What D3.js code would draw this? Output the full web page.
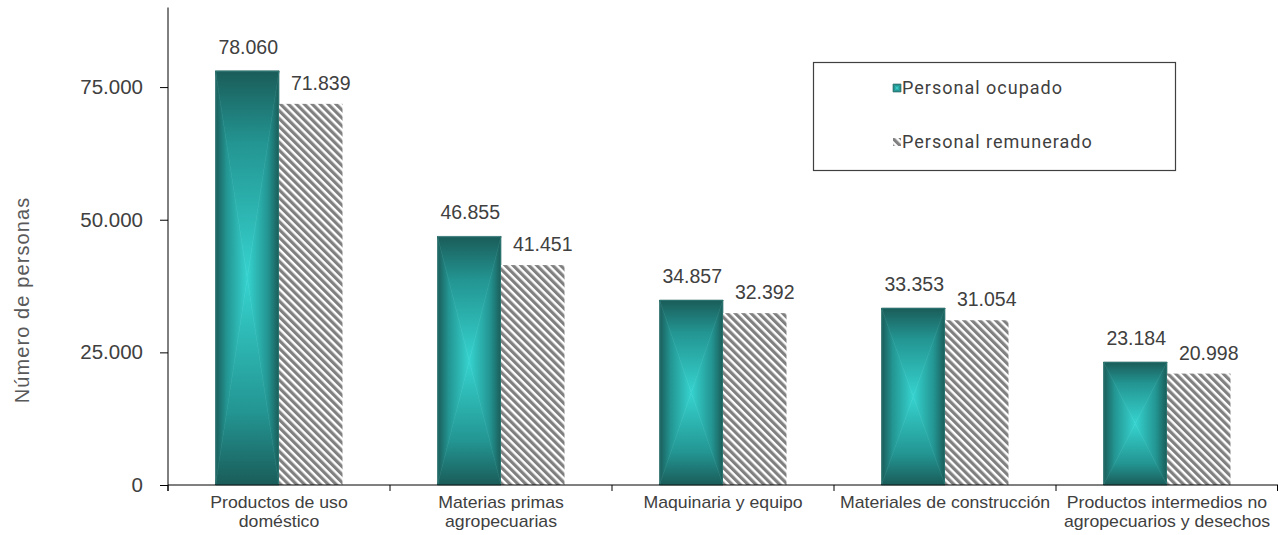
<!DOCTYPE html>
<html><head><meta charset="utf-8">
<script src="https://cdn.jsdelivr.net/npm/d3@7"></script>
<style>body{margin:0;background:#fff}svg{display:block}</style>
</head><body>
<script>
const categories = [["Productos de uso","doméstico"],["Materias primas","agropecuarias"],["Maquinaria y equipo"],["Materiales de construcción"],["Productos intermedios no","agropecuarios y desechos"]];
const ocupado = [78060, 46855, 34857, 33353, 23184];
const remunerado = [71839, 41451, 32392, 31054, 20998];
const yTicks = [0, 25000, 50000, 75000];
const seriesNames = ["Personal ocupado", "Personal remunerado"];

const W = 1278, H = 535;
const svg = d3.select("body").append("svg").attr("width", W).attr("height", H);
const loc = d3.formatLocale({decimal: ",", thousands: ".", grouping: [3], currency: ["", ""]});
const fmt = loc.format(",d");

const x0 = 168, x1 = 1278, yB = 485, yT = 7.5;
const x = d3.scaleBand().domain(d3.range(categories.length)).range([x0, x1]).paddingInner(0).paddingOuter(0);
const y = d3.scaleLinear().domain([0, 90000]).range([yB, yT]);
const bw = x.bandwidth();
const barW = 63.5;
const inner = d3.scaleBand().domain([0, 1]).range([0, barW * 2]);

const defs = svg.append("defs");
const dark = "#1a5c59", mid = "#239592", light = "#36d3cf";
function lg(id, x1_, y1_, x2_, y2_) {
  const g = defs.append("linearGradient").attr("id", id)
    .attr("x1", x1_).attr("y1", y1_).attr("x2", x2_).attr("y2", y2_);
  g.append("stop").attr("offset", 0).attr("stop-color", dark);
  g.append("stop").attr("offset", 0.35).attr("stop-color", mid);
  g.append("stop").attr("offset", 1).attr("stop-color", light);
}
lg("gT", 0, 0, 0, 1); lg("gB", 0, 1, 0, 0); lg("gL", 0, 0, 1, 0); lg("gR", 1, 0, 0, 0);

const pat = defs.append("pattern").attr("id", "hatch").attr("patternUnits", "userSpaceOnUse")
  .attr("width", 5.6).attr("height", 5.6).attr("patternTransform", "rotate(-45)");
pat.append("rect").attr("width", 5.6).attr("height", 5.6).attr("fill", "#fff");
pat.append("rect").attr("x", 0).attr("width", 3.2).attr("height", 5.6).attr("fill", "#808080");

function shadedRect(g, bx, by, w, h) {
  const cx = bx + w / 2, cy = by + h / 2;
  const tris = [
    [[bx, by], [bx + w, by], [cx, cy], "gT"],
    [[bx, by + h], [bx + w, by + h], [cx, cy], "gB"],
    [[bx, by], [bx, by + h], [cx, cy], "gL"],
    [[bx + w, by], [bx + w, by + h], [cx, cy], "gR"]
  ];
  tris.forEach(t => {
    g.append("polygon").attr("points", [t[0], t[1], t[2]].map(p => p.join(",")).join(" "))
      .attr("fill", `url(#${t[3]})`).attr("stroke", `url(#${t[3]})`).attr("stroke-width", 0.6);
  });
  g.append("rect").attr("x", bx + 0.5).attr("y", by + 0.5).attr("width", w - 1).attr("height", h - 1)
    .attr("fill", "none").attr("stroke", "#3f8f8c").attr("stroke-width", 0.6).attr("opacity", 0.7);
}

const off = (bw - barW * 2) / 2;
const gBars = svg.append("g");
const valFont = "Liberation Sans, Arial, sans-serif";
categories.forEach((c, i) => {
  const bx = x(i) + off;
  const v1 = ocupado[i], v2 = remunerado[i];
  shadedRect(gBars, bx + inner(0), y(v1), barW, yB - y(v1));
  gBars.append("rect").attr("x", bx + inner(1)).attr("y", y(v2)).attr("width", barW).attr("height", yB - y(v2))
    .attr("fill", "url(#hatch)");
  gBars.append("text").attr("x", bx + inner(0) + barW / 2 + 1).attr("y", y(v1) - 17)
    .attr("text-anchor", "middle").attr("font-family", valFont)
    .attr("font-size", 19.5).attr("fill", "#404040").text(fmt(v1));
  gBars.append("text").attr("x", bx + inner(1) + barW / 2 + 10).attr("y", y(v2) - 14)
    .attr("text-anchor", "middle").attr("font-family", valFont)
    .attr("font-size", 19.5).attr("fill", "#404040").text(fmt(v2));
});

// Y axis
const yAxis = d3.axisLeft(y).tickValues(yTicks).tickSize(8).tickPadding(17).tickFormat(fmt);
const gy = svg.append("g").attr("transform", `translate(${x0},0)`).call(yAxis);
gy.select(".domain").remove();
gy.append("line").attr("x1", 0).attr("x2", 0).attr("y1", yT).attr("y2", yB + 6).attr("stroke", "#000");
gy.selectAll(".tick line").attr("stroke", "#000");
gy.selectAll(".tick text").attr("font-family", valFont)
  .attr("font-size", 20.5).attr("fill", "#404040");

// X axis
const gx = svg.append("g").attr("transform", `translate(0,${yB})`);
gx.append("line").attr("x1", x0).attr("x2", x1).attr("y1", 0).attr("y2", 0).attr("stroke", "#000");
d3.range(categories.length + 1).forEach(i => {
  const tx = i < categories.length ? x(i) : x1 - 0.5;
  gx.append("line").attr("x1", tx).attr("x2", tx).attr("y1", 0).attr("y2", 6).attr("stroke", "#000");
});
categories.forEach((c, i) => {
  const cxp = x(i) + bw / 2;
  const t = gx.append("text")
    .attr("transform", `translate(${cxp},23) scale(1.04,1)`)
    .attr("text-anchor", "middle").attr("font-family", valFont)
    .attr("font-size", 17).attr("fill", "#404040");
  c.forEach((line, k) => t.append("tspan").attr("x", 0).attr("dy", k === 0 ? 0 : 19.5).text(line));
});

// Y title
svg.append("text").attr("transform", "translate(29,300) rotate(-90)").attr("text-anchor", "middle")
  .attr("font-family", valFont).attr("font-size", 20).attr("letter-spacing", 1.1).attr("fill", "#595959")
  .text("Número  de personas");

// Legend
const lgG = svg.append("g");
lgG.append("rect").attr("x", 813.5).attr("y", 62.5).attr("width", 362).attr("height", 108)
  .attr("fill", "#fff").attr("stroke", "#404040").attr("stroke-width", 1.2);
shadedRect(lgG, 893, 84, 8, 8);
lgG.append("rect").attr("x", 893).attr("y", 138).attr("width", 8).attr("height", 8).attr("fill", "url(#hatch)");
seriesNames.forEach((n, k) => {
  lgG.append("text").attr("x", 902).attr("y", 94 + k * 54)
    .attr("font-family", "Roboto, Liberation Sans, sans-serif").attr("font-size", 18)
    .attr("letter-spacing", 1.0).attr("fill", "#404040").text(n);
});
</script>
</body></html>
